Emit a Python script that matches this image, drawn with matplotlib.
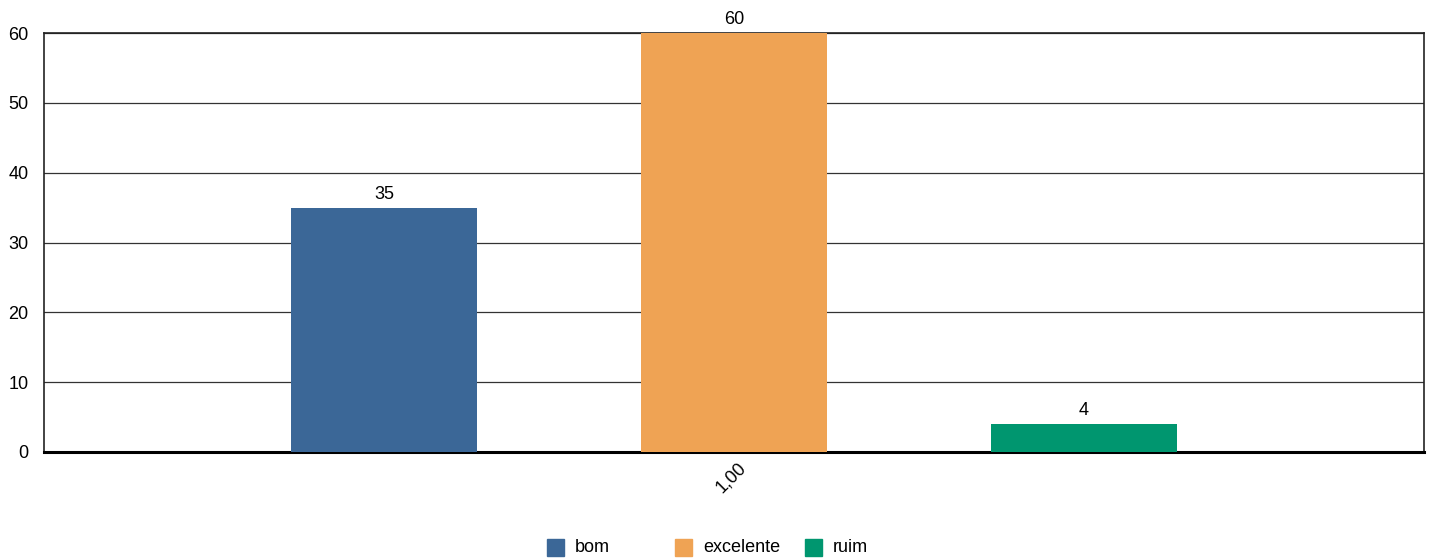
import matplotlib.pyplot as plt
from matplotlib.patches import Rectangle

plt.rcParams['font.family'] = ['Liberation Sans', 'DejaVu Sans']

# data
categories = ['bom', 'excelente', 'ruim']
values = [35, 60, 4]
colors = ['#3b6797', '#efa354', '#00966f']
group_label = '1,00'

fig = plt.figure(figsize=(14.29, 5.6), dpi=100)
ax = fig.add_axes([44 / 1429, 1 - 452 / 560, 1380 / 1429, 419 / 560])

offsets = [-1, 0, 1]
bars = ax.bar(offsets, values, width=0.53, color=colors, zorder=3)
for b, v in zip(bars, values):
    ax.text(b.get_x() + b.get_width() / 2, v + 0.7, str(v), ha='center', va='bottom', fontsize=13)

ax.set_xlim(-1.971, 1.971)
ax.set_ylim(0, 60)
ax.set_yticks(range(0, 61, 10))
ax.yaxis.grid(True, color='#333333', linewidth=0.9, zorder=0)
ax.set_xticks([0.01])
ax.set_xticklabels([group_label], rotation=45, ha='right', rotation_mode='anchor', fontsize=13)
ax.tick_params(axis='both', length=0, labelsize=13)
ax.tick_params(axis='y', pad=11)
ax.tick_params(axis='x', pad=5)
for s in ['left', 'top', 'right']:
    ax.spines[s].set_linewidth(1.2)
    ax.spines[s].set_color('#222222')
ax.spines['bottom'].set_linewidth(2.2)
ax.spines['bottom'].set_color('black')

# legend drawn at the bottom
leg_x = [547, 675, 805]
for x, c, lab in zip(leg_x, colors, categories):
    fig.patches.append(Rectangle((x / 1429, 1 - 556 / 560), 17 / 1429, 17 / 560,
                                 transform=fig.transFigure, color=c))
    fig.text((x + 28) / 1429, 1 - 548 / 560, lab, fontsize=13, va='center', ha='left')

fig.savefig('out.png', dpi=100)
